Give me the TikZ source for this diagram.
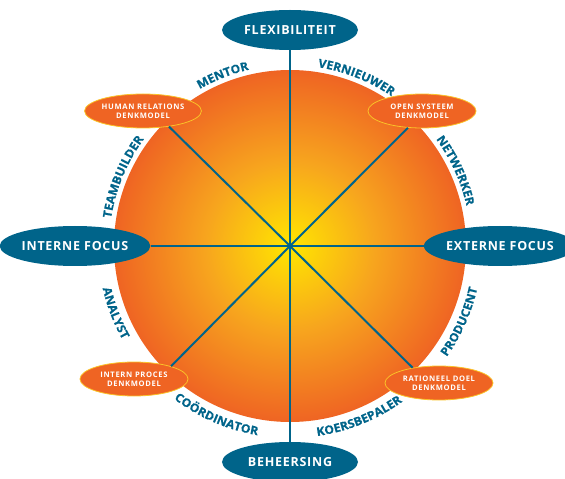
\documentclass[tikz,border=0pt]{standalone}
\usepackage{fontspec}
\newfontfamily\capsfont[LetterSpace=6]{Open Sans}
\newfontfamily\smallfont[LetterSpace=9]{Open Sans}
\newfontfamily\rolefont[FakeStretch=1.04, BoldFeatures={FakeBold=0.6}]{Open Sans}
\newcommand\rolestyle{\rolefont\bfseries\fontsize{11.8}{13}\selectfont}
\usetikzlibrary{shapes.geometric,decorations.text}

\definecolor{petrol}{RGB}{0,100,138}
\definecolor{sunyellow}{RGB}{255,230,0}
\definecolor{sunmid}{RGB}{247,165,30}
\definecolor{sunorange}{RGB}{239,100,35}
\definecolor{rimgold}{RGB}{250,195,40}
\pgfdeclareradialshading{sunball}{\pgfpoint{0bp}{0bp}}{color(0bp)=(sunyellow); color(12bp)=(sunmid); color(25bp)=(sunorange); color(50bp)=(sunorange)}

\begin{document}
\begin{tikzpicture}[x=1pt, y=1pt,
    bigoval/.style={ellipse, fill=petrol, text=white, minimum width=136pt, minimum height=40pt, inner sep=0pt, font=\capsfont\bfseries\fontsize{12.5}{14}\selectfont},
    smalloval/.style={ellipse, fill=sunorange, draw=rimgold, line width=0.8pt, text=white, minimum width=108pt, minimum height=34pt, inner sep=0pt, align=center, font=\smallfont\bfseries\fontsize{7.6}{9.4}\selectfont},
    spoke/.style={draw=petrol, line width=2pt},
    role/.style={decorate, decoration={text along path, text align=center, text color=petrol}}]

        \useasboundingbox (-290,-233) rectangle (275,246);

        % Shaded disc in the middle
        \coordinate (hub) at (0,0);
        \shade[shading=sunball] (hub) circle[radius=176pt];

        % The four axes
        \node[bigoval, above of=hub, node distance=216pt] (flex) {FLEXIBILITEIT};
        \node[bigoval, below of=hub, node distance=216pt] (beheer) {BEHEERSING};
        \node[bigoval, left of=hub, node distance=215pt] (intern) {INTERNE FOCUS};
        \node[bigoval, right of=hub, node distance=210pt] (extern) {EXTERNE FOCUS};

        % The four models
        \node[smalloval] (human) at (-147,135) {HUMAN RELATIONS\\DENKMODEL};
        \node[smalloval] (open) at (132,135) {OPEN SYSTEEM\\DENKMODEL};
        \node[smalloval] (proces) at (-156,-133) {INTERN PROCES\\DENKMODEL};
        \node[smalloval] (doel) at (149,-137) {RATIONEEL DOEL\\DENKMODEL};

        % Lines through the disc
        \draw[spoke] (flex) -- (beheer);
        \draw[spoke] (intern) -- (extern);
        \draw[spoke] (hub) -- (human.-31);
        \draw[spoke] (hub) -- (open.230);
        \draw[spoke] (hub) -- (proces.19);
        \draw[spoke] (hub) -- (doel.150);

        % Roles round the upper half
        \path[role, decoration={text={|\rolestyle|MENTOR}}] (140:181pt) arc[start angle=140, end angle=83, radius=181pt];
        \path[role, decoration={text={|\rolestyle|VERNIEUWER}}] (97:181pt) arc[start angle=97, end angle=40, radius=181pt];
        \path[role, decoration={text={|\rolestyle|NETWERKER}}] (53:181pt) arc[start angle=53, end angle=-4, radius=181pt];
        \path[role, decoration={text={|\rolestyle|TEAMBUILDER}}] (186:181pt) arc[start angle=186, end angle=129, radius=181pt];

        % Roles round the lower half
        \path[role, decoration={text={|\rolestyle|ANALYST}}] (172:192pt) arc[start angle=172, end angle=230, radius=192pt];
        \path[role, decoration={text={|\rolestyle|COÖRDINATOR}}] (218:192pt) arc[start angle=218, end angle=275, radius=192pt];
        \path[role, decoration={text={|\rolestyle|KOERSBEPALER}}] (263:192pt) arc[start angle=263, end angle=321, radius=192pt];
        \path[role, decoration={text={|\rolestyle|PRODUCENT}}] (307:192pt) arc[start angle=307, end angle=365, radius=192pt];

\end{tikzpicture}
\end{document}
